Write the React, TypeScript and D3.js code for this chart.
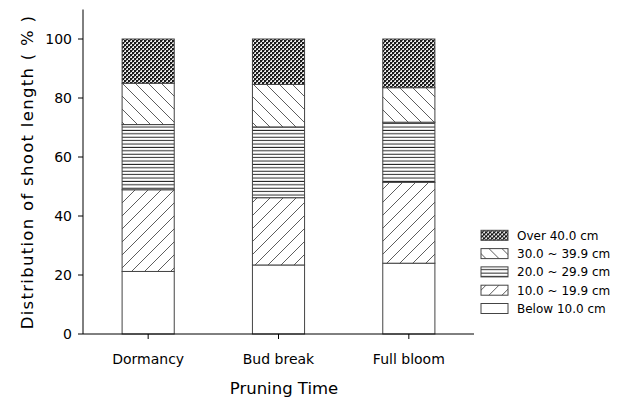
import * as d3 from "d3";

const categories = ["Dormancy", "Bud break", "Full bloom"];
const classKeys = ["below10", "c10to19", "c20to29", "c30to39", "over40"];
const classLabels = ["Below 10.0 cm", "10.0 ~ 19.9 cm", "20.0 ~ 29.9 cm", "30.0 ~ 39.9 cm", "Over 40.0 cm"];
const below10 = [21.2, 23.4, 24.0];
const c10to19 = [27.7, 22.8, 27.4];
const c20to29 = [22.1, 24.0, 20.4];
const c30to39 = [14.0, 14.4, 11.7];
const over40 = [15.0, 15.4, 16.5];
const yTicks = [0, 20, 40, 60, 80, 100];

const seriesValues = [below10, c10to19, c20to29, c30to39, over40];
const fills = ["#ffffff", "url(#fwd)", "url(#horiz)", "url(#back)", "url(#cross)"];

const width = 634;
const height = 400;
const font = "'DejaVu Sans', Verdana, sans-serif";

type Row = { category: string } & Record<string, number>;

const rows: Row[] = categories.map((category, i) => {
	const row = { category } as Row;
	classKeys.forEach((key, k) => {
		row[key] = seriesValues[k][i];
	});
	return row;
});

export default function App() {
	const x = d3.scaleBand().domain(categories).range([83, 474]).paddingInner(0.6).paddingOuter(0.3);
	const y = d3.scaleLinear().domain([0, 110]).range([334, 9.5]);
	const stacked = d3.stack<Row>().keys(classKeys)(rows);

	const legendRowY = (k: number) => 308.5 - k * 18.3;

	return (
		<svg
			width={width}
			height={height}
			style={{ position: "absolute", left: 0, top: 0, background: "#fff" }}
			fontFamily={font}
		>
			<defs>
				<pattern id="cross" patternUnits="userSpaceOnUse" width={4} height={4}>
					<rect width={4} height={4} fill="#e8e8e8" />
					<rect width={2} height={2} fill="#1a1a1a" />
					<rect x={2} y={2} width={2} height={2} fill="#1a1a1a" />
					<rect x={2} y={0} width={1} height={1} fill="#666" />
					<rect x={0} y={2} width={1} height={1} fill="#666" />
				</pattern>
				<pattern id="back" patternUnits="userSpaceOnUse" width={13} height={13}>
					<rect width={13} height={13} fill="#fff" />
					<path d="M0,0 L13,13 M-13,0 L0,13 M0,-13 L13,0" stroke="#333" strokeWidth={0.8} />
				</pattern>
				<pattern id="fwd" patternUnits="userSpaceOnUse" width={13} height={13}>
					<rect width={13} height={13} fill="#fff" />
					<path d="M0,13 L13,0 M-13,13 L0,0 M13,13 L26,0" stroke="#333" strokeWidth={0.8} />
				</pattern>
				<pattern id="horiz" patternUnits="userSpaceOnUse" width={10} height={3.4}>
					<rect width={10} height={3.4} fill="#fff" />
					<line x1={0} x2={10} y1={1.2} y2={1.2} stroke="#222" strokeWidth={1} />
				</pattern>
			</defs>

			{stacked.map((series, k) =>
				series.map((seg) => (
					<rect
						key={`${k}-${seg.data.category}`}
						x={x(seg.data.category)}
						y={y(seg[1])}
						width={x.bandwidth()}
						height={y(seg[0]) - y(seg[1])}
						fill={fills[k]}
						stroke="#444"
						strokeWidth={1}
					/>
				))
			)}

			{/* axes */}
			<line x1={83} x2={83} y1={y(110)} y2={y(0)} stroke="#000" />
			<line x1={83} x2={474} y1={y(0)} y2={y(0)} stroke="#000" />
			{yTicks.map((t) => (
				<g key={t}>
					<line x1={78} x2={83} y1={y(t)} y2={y(t)} stroke="#000" />
					<text x={72} y={y(t)} dy="0.36em" textAnchor="end" fontSize={14}>
						{t}
					</text>
				</g>
			))}
			{categories.map((c) => (
				<g key={c}>
					<line
						x1={(x(c) ?? 0) + x.bandwidth() / 2}
						x2={(x(c) ?? 0) + x.bandwidth() / 2}
						y1={y(0)}
						y2={y(0) + 5}
						stroke="#000"
					/>
					<text x={(x(c) ?? 0) + x.bandwidth() / 2} y={364} textAnchor="middle" fontSize={14}>
						{c}
					</text>
				</g>
			))}
			<text x={284} y={394} textAnchor="middle" fontSize={16.5}>
				Pruning Time
			</text>
			<text
				transform={`translate(33,${(y(0) + 10) / 2}) rotate(-90)`}
				textAnchor="middle"
				fontSize={16.5}
				letterSpacing={1.3}
			>
				Distribution of shoot length ( % )
			</text>

			{/* legend */}
			{classLabels.map((label, k) => (
				<g key={label} transform={`translate(481,${legendRowY(k)})`}>
					<rect x={0} y={-5} width={27} height={10} fill={fills[k]} stroke="#444" />
					<text x={36} y={0} dy="0.36em" fontSize={12}>
						{label}
					</text>
				</g>
			))}
		</svg>
	);
}
